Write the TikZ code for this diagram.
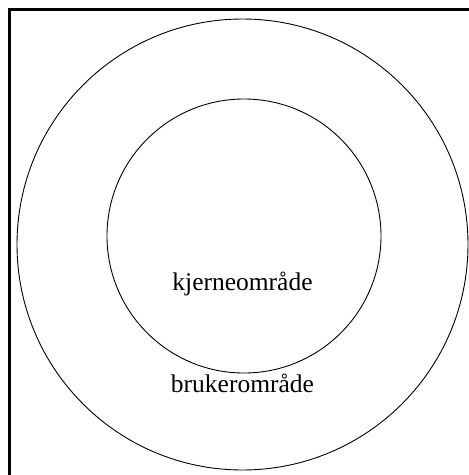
\documentclass[tikz,border=0pt]{standalone}
\usepackage{fontspec}
\setmainfont{Liberation Serif}
\begin{document}
\begin{tikzpicture}[x=1pt,y=-1pt,
  ring/.style={draw=black,line width=0.9pt},
  frameline/.style={draw=black,line width=2.6pt},
  lbl/.style={font=\fontsize{25.5}{30}\selectfont,inner sep=0pt,anchor=base}]
\useasboundingbox (0,0) rectangle (469,475);
\coordinate (tl) at (9.3,9.3);
\coordinate (tr) at (469,9.3);
\coordinate (bl) at (9.3,475);
\draw[frameline] (tr) -- (tl) -- (bl);
\node[ring,circle,minimum size=451pt,inner sep=0pt] (outer) at (242.5,244.5) {};
\node[ring,circle,minimum size=274pt,inner sep=0pt] (inner) at (244,236) {};
\node[lbl] (kjerne) at (242.5,290) {kjerneområde};
\node[lbl] (bruker) at (242.5,392) {brukerområde};
\end{tikzpicture}
\end{document}
